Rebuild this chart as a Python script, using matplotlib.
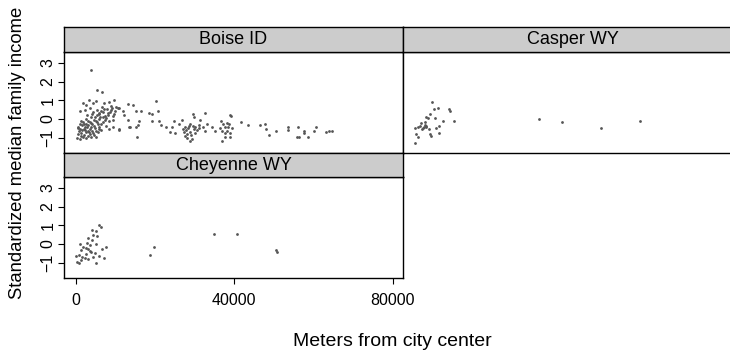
import matplotlib.pyplot as plt

plt.rcParams['font.family'] = ['Liberation Sans', 'DejaVu Sans']

# distance from city center (m) and standardized median family income per tract
boise_x = [
    3917, 5333, 6583,
    1833, 2667, 3333, 4333, 5167, 7083, 8500, 8917, 9750, 10167, 11000, 13083, 14500, 20167,
    1000, 2250, 3500, 4333, 5333, 5833, 6417, 7250, 8083, 8917, 9333, 10583, 11833, 12250,
    15333, 16417, 18500, 19333, 20750, 32667, 29583,
    1417, 2667, 3917, 4750, 5167, 6000, 6833, 7667, 8500, 9333, 13083, 16000, 19333, 21000,
    24750, 26833, 29750, 31417, 36667, 39083, 41833, 43500, 46417, 47667,
    583, 1167, 1833, 2250, 3083, 3500, 3917, 4500, 5583, 6000, 6833, 7667, 9333, 10833,
    13500, 15333, 15750, 21417, 22667, 24333, 26000, 27667, 28667, 30167, 31000, 32083,
    33083, 34333, 37667, 38500, 39333, 48083, 53500, 56000, 57667, 60583,
    833, 1417, 2000, 2667, 3083, 3667, 4333, 5000, 5833, 8500, 10833, 13667, 23917, 25167,
    27250, 28083, 28917, 29750, 32667, 35167, 36833, 38083, 38917, 48750, 50583, 53667,
    57667, 60167, 63083, 63917, 64750,
    333, 1167, 1833, 2667, 3917, 5000, 15417, 28083, 28917, 29333, 36833, 37667, 38917,
    55833, 56417, 58500,
    1000, 1500, 2000, 2400, 2800, 3200, 3600, 4000, 4200, 4600, 4800, 5300, 5500, 5900,
    6200, 6500, 7000, 7300, 7800, 8200, 8700, 9100, 9600, 10000, 500, 1300, 2100, 3000,
    3400, 4700, 5700, 6300, 1700, 2500, 3800, 700, 2900, 4100, 6700, 7400,
    27000, 27900, 28400, 29000, 29500, 30500, 31200, 27500, 28800, 30000,
    37200, 38200, 37800, 36400, 38800, 39000,
]
boise_y = [
    2.62, 1.57, 1.44,
    0.84, 0.76, 1.03, 0.87, 0.98, 0.84, 0.92, 0.71, 1.03, 0.66, 0.59, 0.80, 0.76, 0.96,
    0.44, 0.48, 0.59, 0.35, 0.48, 0.25, 0.41, 0.53, 0.30, 0.48, 0.17, 0.59, 0.44, 0.23,
    0.41, 0.41, 0.30, 0.25, 0.44, 0.32, 0.25,
    -0.09, 0.00, 0.09, 0.12, -0.09, 0.00, 0.12, 0.03, -0.09, -0.04, -0.06, -0.09, -0.09, -0.09,
    -0.09, -0.06, 0.09, -0.04, -0.13, 0.14, -0.18, -0.31, -0.31, -0.27,
    -0.41, -0.27, -0.18, -0.41, -0.31, -0.18, -0.45, -0.36, -0.27, -0.45, -0.18, -0.36, -0.45, -0.54,
    -0.45, -0.41, -0.31, -0.31, -0.45, -0.45, -0.27, -0.41, -0.36, -0.45, -0.31, -0.41,
    -0.27, -0.41, -0.45, -0.41, -0.48, -0.54, -0.41, -0.45, -0.63, -0.45,
    -0.63, -0.77, -0.54, -0.72, -0.63, -0.81, -0.77, -0.63, -0.54, -0.54, -0.59, -0.45, -0.72, -0.77,
    -0.72, -0.81, -0.68, -0.54, -0.63, -0.63, -0.63, -0.63, -0.77, -0.84, -0.63, -0.59,
    -0.77, -0.63, -0.72, -0.63, -0.63,
    -1.02, -1.07, -0.98, -1.02, -0.95, -0.98, -0.95, -1.02, -1.16, -1.09, -1.20, -0.98, -0.98,
    -0.98, -0.95, -0.95,
    -0.55, -0.35, -0.25, -0.60, -0.45, -0.10, -0.55, -0.30, -0.65, -0.05, -0.50, 0.20, -0.15, 0.30,
    0.10, -0.30, 0.35, 0.15, 0.55, 0.20, 0.35, 0.60, 0.25, 0.45, -0.80, -0.90, -0.85, -0.90,
    -0.70, -0.85, -0.70, -0.60, -0.60, -0.30, -0.20, -0.50, 0.20, 0.25, 0.65, -0.05,
    -0.55, -0.60, -0.50, -0.85, -0.40, -0.60, -0.50, -0.90, -0.30, -0.75,
    -0.30, -0.20, -0.75, -0.50, -0.30, 0.20,
]

casper_x = [
    4417, 4750, 5833, 8750, 8917, 3750, 2917, 3333, 5000, 7083, 9833, 1667, 1250, 2500,
    2917, 2083, 0, 833, 3583, 6083, 5417, 417, 833, 3750, 4167, 6083, 167, 2250, 2750,
    1917, 2500, 31250, 37083, 47083, 56833,
]
casper_y = [
    0.92, 0.53, 0.57, 0.53, 0.44, 0.25, 0.09, 0.03, 0.05, -0.13, -0.09, -0.23, -0.38, -0.31,
    -0.45, -0.48, -0.48, -0.45, -0.52, -0.36, -0.48, -0.81, -0.95, -0.81, -0.91, -0.77, -1.29,
    -0.41, -0.38, -0.54, -0.18, 0.00, -0.14, -0.48, -0.13,
]

cheyenne_x = [
    5833, 6417, 4167, 5000, 4333, 5333, 3083, 4167, 2833, 5167, 3667, 1000, 1833, 2500,
    7667, 6667, 3083, 3500, 1417, 3917, 4750, 2667, 0, 833, 1667, 2250, 4333, 6000, 7083,
    333, 833, 1417, 3083, 5000, 19750, 18750, 35000, 40833, 50667, 50750,
]
cheyenne_y = [
    1.02, 0.89, 0.75, 0.71, 0.48, 0.43, 0.30, 0.21, 0.03, 0.00, -0.05, -0.02, -0.14, -0.20,
    -0.14, -0.29, -0.29, -0.36, -0.32, -0.41, -0.50, -0.54, -0.64, -0.59, -0.71, -0.77, -0.71,
    -0.64, -0.73, -0.95, -1.04, -0.86, -0.82, -1.00, -0.18, -0.61, 0.52, 0.52, -0.32, -0.43,
]

y_ticks = [-1, 0, 1, 2, 3]
y_ticklabels = ['\u22121', '0', '1', '2', '3']
x_ticks = [0, 40000, 80000]
x_ticklabels = ['0', '40000', '80000']

W, H = 730, 352
fig = plt.figure(figsize=(W / 100, H / 100), dpi=100)


def rect(left, top, width, height):
    return [left / W, 1 - (top + height) / H, width / W, height / H]


# (name, x, y, panel left, strip top, strip height, panel top)
panels = [
    ("Boise ID", boise_x, boise_y, 64, 27, 25, 52),
    ("Casper WY", casper_x, casper_y, 403, 27, 25, 52),
    ("Cheyenne WY", cheyenne_x, cheyenne_y, 64, 153, 24, 177),
]

for name, xs, ys, left, s_top, s_h, p_top in panels:
    ax = fig.add_axes(rect(left, p_top, 339, 101))
    ax.plot(xs, ys, 'o', ms=2.0, color='#555555', mec='none')
    ax.set_xlim(-2950, 82600)
    ax.set_ylim(-1.83, 3.59)
    for sp in ax.spines.values():
        sp.set_linewidth(1.0)
    ax.tick_params(length=4.5, width=0.8, labelsize=11.5)
    if left == 64:
        ax.set_yticks(y_ticks)
        ax.set_yticklabels(y_ticklabels, rotation=90, va='center')
        ax.tick_params(axis='y', pad=1.5)
    else:
        ax.set_yticks([])
    if name == "Cheyenne WY":
        ax.set_xticks(x_ticks)
        ax.set_xticklabels(x_ticklabels)
        ax.tick_params(axis='x', pad=6.5)
    else:
        ax.set_xticks([])

    st = fig.add_axes(rect(left, s_top, 339, s_h))
    st.set_facecolor('#CCCCCC')
    st.set_xticks([])
    st.set_yticks([])
    for sp in st.spines.values():
        sp.set_linewidth(1.0)
    st.text(0.5, 0.5, name, ha='center', va='center', fontsize=13,
            transform=st.transAxes)

fig.text(392 / W, 1 - 341 / H, "Meters from city center", ha='center', va='center',
         fontsize=14)
fig.text(18 / W, 1 - 153 / H, "Standardized median family income", ha='center',
         va='center', rotation=90, fontsize=13.3)

fig.savefig('out.png', dpi=100)
